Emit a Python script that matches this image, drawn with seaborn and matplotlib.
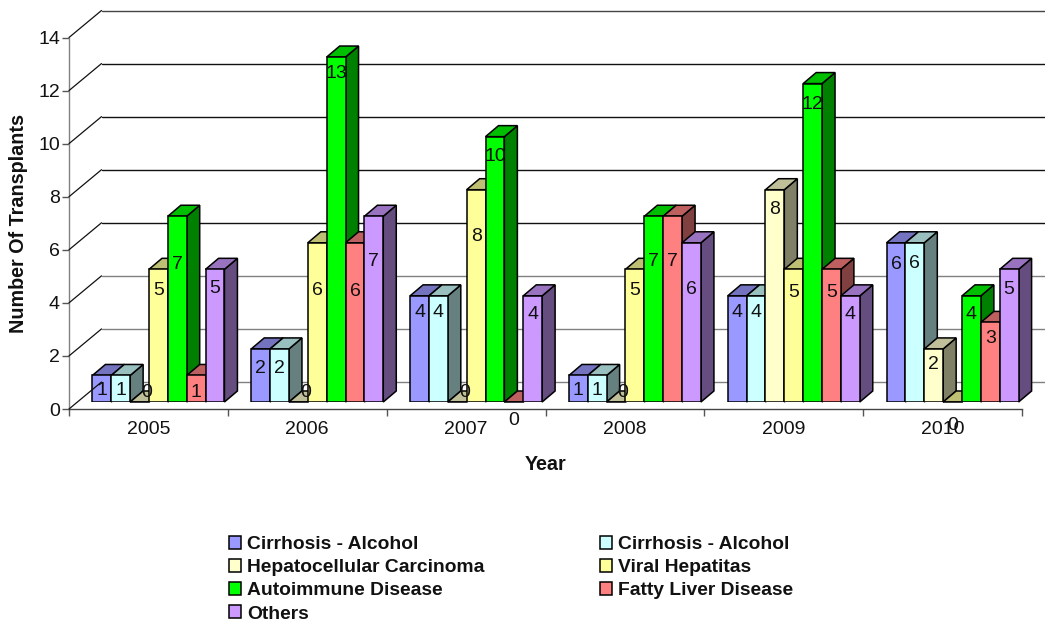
#!/usr/bin/env python3
"""Number of liver transplants per year and cause, as a fake-3D grouped bar chart."""

import matplotlib
matplotlib.use("Agg")
import matplotlib.pyplot as plt
import numpy as np
import pandas as pd
import seaborn as sns
from matplotlib.colors import to_rgb
from matplotlib.patches import Polygon
from matplotlib.transforms import Affine2D

YEARS = ["2005", "2006", "2007", "2008", "2009", "2010"]
SERIES = [
    "Cirrhosis - Alcohol",
    "Cirrhosis - Alcohol",
    "Hepatocellular Carcinoma",
    "Viral Hepatitas",
    "Autoimmune Disease",
    "Fatty Liver Disease",
    "Others",
]
CIRRHOSIS_A = [1, 2, 4, 1, 4, 6]
CIRRHOSIS_B = [1, 2, 4, 1, 4, 6]
HCC = [0, 0, 0, 0, 8, 2]
VIRAL = [5, 6, 8, 5, 5, 0]
AUTOIMMUNE = [7, 13, 10, 7, 12, 4]
FATTY = [1, 6, 0, 7, 5, 3]
OTHERS = [5, 7, 4, 6, 4, 5]
COLORS = ["#9999FF", "#CCFFFF", "#FFFFCC", "#FFFF99", "#00FF00", "#FF8080", "#CC99FF"]

# how far each value label sits below its bar top, pixels (rows follow the series)
LABEL_DROP = [
    [14, 18, 15, 14, 15, 20],
    [14, 18, 15, 14, 15, 19],
    [-11, -11, -11, -11, 18, 14],
    [20, 46, 45, 20, 22, 22],
    [47, 15, 18, 44, 19, 17],
    [16, 47, 17, 44, 22, 15],
    [18, 44, 17, 45, 17, 19],
]

WIDTH, HEIGHT = 1045, 622
LEFT, RIGHT, BASE, TOP = 69, 1022, 409, 37.5
WALL_DX, WALL_DY = 32.5, 27
BAR_DX, BAR_DY = 10, 7
DEPTH_DX, DEPTH_DY = 13, 11
FONT_SIZE = 14

sns.set_theme(style="white")
plt.rcParams["font.family"] = ["Liberation Sans", "DejaVu Sans"]

values = [CIRRHOSIS_A, CIRRHOSIS_B, HCC, VIRAL, AUTOIMMUNE, FATTY, OTHERS]
df = pd.DataFrame({
    "Year": np.tile(YEARS, len(SERIES)),
    "series": np.repeat(np.arange(len(SERIES)), len(YEARS)),
    "Transplants": np.concatenate(values),
})

fig = plt.figure(figsize=(WIDTH / 100, HEIGHT / 100), dpi=100)


def axes_box(dx=0, dy=0):
    return [(LEFT + dx) / WIDTH, (HEIGHT - BASE + dy) / HEIGHT,
            (RIGHT - LEFT) / WIDTH, (BASE - TOP) / HEIGHT]


# Front frame with the ticks and the receding wall lines
ax = fig.add_axes(axes_box())
ax.set_xlim(-0.5, len(YEARS) - 0.5)
ax.set_ylim(0, 14)
yticks = np.arange(0, 15, 2)
ax.set_yticks(yticks)
ax.set_xticks(np.arange(len(YEARS) + 1) - 0.5)
ax.set_xticklabels([])
ax.set_xticks(np.arange(len(YEARS)), labels=YEARS, minor=True)
ax.tick_params(axis="x", which="major", length=5, width=1, color="#555555", bottom=True)
ax.tick_params(axis="x", which="minor", length=0, labelsize=FONT_SIZE, pad=9, colors="#111111")
ax.tick_params(axis="y", length=5, width=1, color="#555555", left=True,
               labelsize=FONT_SIZE, pad=1.5, colors="#111111")
ax.grid(False)
ax.patch.set_alpha(0)
for side in ["top", "right"]:
    ax.spines[side].set_visible(False)
ax.spines["left"].set_color("#808080")
ax.spines["bottom"].set_color("#444444")
for side in ["left", "bottom"]:
    ax.spines[side].set_linewidth(1.0)

wall = ax.transData + Affine2D().translate(WALL_DX, WALL_DY)
for tick in yticks:
    if tick < 6:
        line_color = "#808080"
    elif tick == 14:
        line_color = "#444444"
    else:
        line_color = "#111111"
    ax.plot([-0.5, len(YEARS) - 0.5], [tick, tick], transform=wall, clip_on=False, zorder=1,
            color=line_color, lw=1.0)
    # diagonal from the front axis to the back wall
    start = ax.transData.transform((-0.5, tick))
    ends = fig.transFigure.inverted().transform([start, start + [WALL_DX, WALL_DY]])
    fig.add_artist(plt.Line2D(ends[:, 0], ends[:, 1], color="#111111", lw=0.9, zorder=1))

ax.set_xlabel("Year", fontsize=14.2, fontweight="bold", color="#111111")
ax.xaxis.set_label_coords(0.5, -(465 - BASE) / (BASE - TOP), transform=ax.transAxes)
ax.xaxis.label.set_va("center")
ax.set_ylabel("Number Of Transplants", fontsize=14.2, fontweight="bold", color="#111111")
ax.yaxis.set_label_coords(-(LEFT - 19) / (RIGHT - LEFT), 0.5)
ax.yaxis.label.set_va("center")

# Bars sit a little in from the front edge of the floor
bar_ax = fig.add_axes(axes_box(BAR_DX, BAR_DY))
sns.barplot(
    data=df, x="Year", y="Transplants", hue="series", palette=COLORS, order=YEARS,
    width=132 / 158.8, gap=0, saturation=1, edgecolor="black", linewidth=1.1, ax=bar_ax,
)
bar_ax.set_xlim(-0.5, len(YEARS) - 0.5)
bar_ax.set_ylim(0, 14)
handles, _ = bar_ax.get_legend_handles_labels()
bar_ax.get_legend().remove()
bar_ax.axis("off")

x_unit = (len(YEARS)) / (RIGHT - LEFT)
y_unit = 14 / (BASE - TOP)
depth_x, depth_y = DEPTH_DX * x_unit, DEPTH_DY * y_unit


def shade(color, factor):
    return tuple(c * factor for c in to_rgb(color))


# Walk over the bars from left to right so each one hides the side of the one before
bars = []
for s, container in enumerate(bar_ax.containers):
    for y, bar in enumerate(container):
        bars.append((bar.get_x(), s, y, bar))
bars.sort(key=lambda item: item[0])

for order, (_, s, y, bar) in enumerate(bars):
    x0, x1, h = bar.get_x(), bar.get_x() + bar.get_width(), bar.get_height()
    z = 10 + order
    bar.set_zorder(z)
    top_face = [(x0, h), (x1, h), (x1 + depth_x, h + depth_y), (x0 + depth_x, h + depth_y)]
    side_face = [(x1, 0), (x1 + depth_x, depth_y), (x1 + depth_x, h + depth_y), (x1, h)]
    for face, factor in [(side_face, 0.5), (top_face, 0.75)]:
        bar_ax.add_patch(Polygon(face, closed=True, clip_on=False, zorder=z - 0.5,
                                 facecolor=shade(COLORS[s], factor),
                                 edgecolor="black", linewidth=1.1))
    drop = LABEL_DROP[s][y] + 1.5
    dx = 7 if h == 0 and drop < 0 else 0
    bar_ax.annotate(str(int(h)), xy=(x0 + bar.get_width() / 2, h), xytext=(dx * 0.72, -drop * 0.72),
                    textcoords="offset points", ha="center", va="center",
                    fontsize=FONT_SIZE, color="#111111", zorder=100, annotation_clip=False)

# matplotlib fills legend columns first, the reference reads row by row
legend_order = [0, 2, 4, 6, 1, 3, 5]
fig.legend(
    [handles[i] for i in legend_order], [SERIES[i] for i in legend_order],
    ncol=2, loc="upper left", bbox_to_anchor=(228.5 / WIDTH, 1 - 536 / HEIGHT),
    frameon=False, prop={"weight": "bold", "size": 13.9}, labelcolor="#111111",
    handlelength=0.64, handleheight=0.64, handletextpad=0.33, columnspacing=5.96,
    labelspacing=0.31, borderpad=0, borderaxespad=0,
)

fig.savefig("out.png", dpi=100)
